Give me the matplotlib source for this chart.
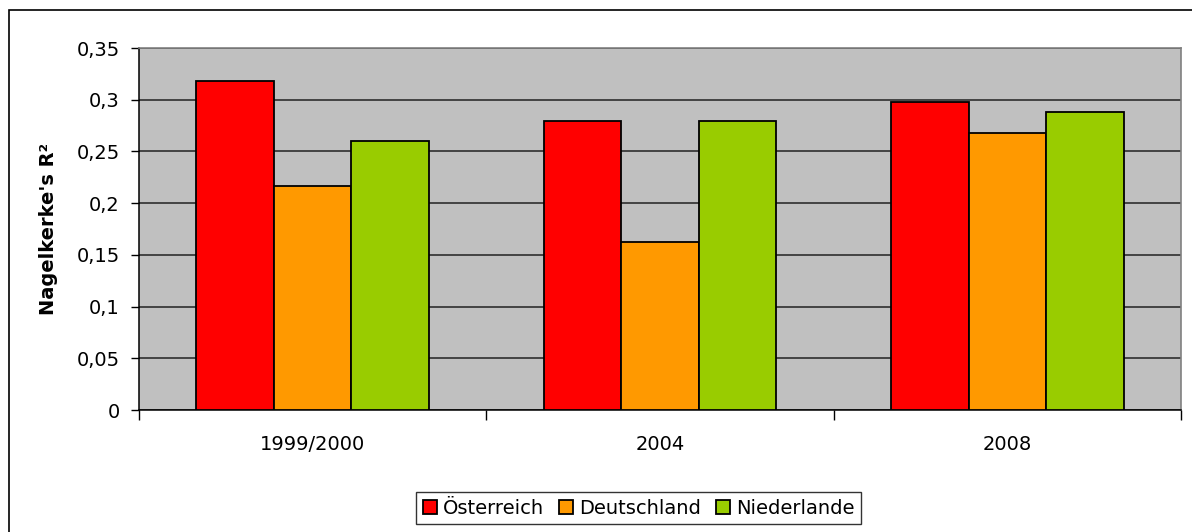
import matplotlib
matplotlib.use("Agg")
import matplotlib.pyplot as plt
import numpy as np
from matplotlib.patches import Rectangle

plt.rcParams['font.family'] = ['DejaVu Sans']

categories = ["1999/2000", "2004", "2008"]
series_names = ["Österreich", "Deutschland", "Niederlande"]
oesterreich = [0.318, 0.279, 0.298]
deutschland = [0.217, 0.162, 0.268]
niederlande = [0.260, 0.279, 0.288]
colors = ["#FF0000", "#FF9900", "#99CC00"]
yticks = [0, 0.05, 0.1, 0.15, 0.2, 0.25, 0.3, 0.35]
ytick_labels = ["0", "0,05", "0,1", "0,15", "0,2", "0,25", "0,3", "0,35"]

fs = 14

fig = plt.figure(figsize=(11.92, 5.32), dpi=100)
fig.patch.set_facecolor("white")
# outer chart border
fig.patches.append(Rectangle((9/1192, -0.05), 1.1, 1 - 10/532 + 0.05,
                             transform=fig.transFigure, fill=False,
                             edgecolor="black", linewidth=1.2))

ax = fig.add_axes([139/1192, 1 - 410/532, (1181 - 139)/1192, (410 - 48)/532])
ax.set_facecolor("#C0C0C0")

x = np.arange(len(categories))
w = 0.223
for i, (vals, name) in enumerate(zip([oesterreich, deutschland, niederlande], series_names)):
    ax.bar(x + (i - 1) * w, vals, width=w, color=colors[i], edgecolor="black",
           linewidth=1.3, label=name, zorder=3)

ax.set_xlim(-0.5, 2.5)
ax.set_ylim(0, 0.35)
ax.set_yticks(yticks)
ax.set_yticklabels(ytick_labels, fontsize=fs)
ax.yaxis.grid(True, color="#222222", linewidth=1.1, zorder=1)
ax.set_axisbelow(True)

ax.set_xticks(x)
ax.set_xticklabels(categories, fontsize=fs)
ax.tick_params(axis="x", length=0, pad=18)
ax.set_xticks([-0.5, 0.5, 1.5, 2.5], minor=True)
ax.tick_params(axis="x", which="minor", length=7, color="black", width=1)
ax.tick_params(axis="y", length=6, width=1, color="black", pad=8)

for s in ["top", "right"]:
    ax.spines[s].set_color("#808080")
    ax.spines[s].set_linewidth(1.2)
for s in ["left", "bottom"]:
    ax.spines[s].set_color("black")
    ax.spines[s].set_linewidth(1.1)

ax.set_ylabel("Nagelkerke's R²", fontsize=fs, fontweight="bold")
ax.yaxis.set_label_coords(-0.078, 0.5)

leg = fig.legend(loc="center", bbox_to_anchor=(638.7/1192, 1 - 508/532), ncol=3,
                 fontsize=fs, frameon=True, fancybox=False, edgecolor="black",
                 handlelength=0.7, handleheight=0.7, handletextpad=0.3,
                 columnspacing=0.8, borderpad=0.35)
leg.get_frame().set_linewidth(1.0)

fig.savefig("out.png", dpi=100)
